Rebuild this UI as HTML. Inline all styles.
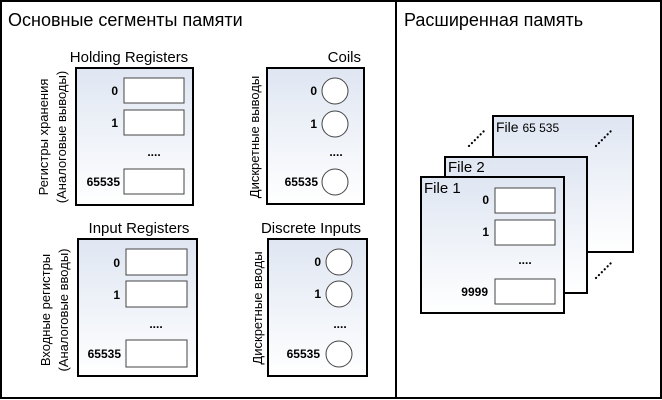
<!DOCTYPE html>
<html><head><meta charset="utf-8"><style>
html,body{margin:0;padding:0;background:#fff}
svg{display:block}
text{font-family:"Liberation Sans","DejaVu Sans",sans-serif;fill:#000}
.b{font-weight:bold;font-size:12px}
.t{font-size:15px}
.r{font-size:13px}
</style></head><body>
<svg width="662" height="400" viewBox="0 0 662 400" xmlns="http://www.w3.org/2000/svg">
<defs>
<linearGradient id="g" x1="0" y1="0" x2="0" y2="1">
<stop offset="0" stop-color="#dfe6f2"/><stop offset="1" stop-color="#ffffff"/>
</linearGradient>
</defs>
<rect x="1" y="1" width="660" height="397" fill="#fff" stroke="#000" stroke-width="2"/>
<line x1="396" y1="1" x2="396" y2="398" stroke="#000" stroke-width="2"/>
<text x="8" y="26" style="font-size:18px">Основные сегменты памяти</text>
<text x="404" y="26" style="font-size:18px">Расширенная память</text>

<!-- Holding -->
<text class="t" x="129" y="62" text-anchor="middle">Holding Registers</text>
<rect x="76" y="68" width="117" height="137" fill="url(#g)" stroke="#000" stroke-width="2"/>
<g fill="#fff" stroke="#444"><rect x="124" y="78" width="60" height="25"/><rect x="124" y="110" width="60" height="25"/><rect x="124" y="169" width="60" height="25"/></g>
<text class="b" x="118" y="95" text-anchor="end">0</text>
<text class="b" x="118" y="127" text-anchor="end">1</text>
<text class="b" x="154" y="156" text-anchor="middle">....</text>
<text class="b" x="120" y="186" text-anchor="end">65535</text>
<text class="r" transform="translate(48,137) rotate(-90)" text-anchor="middle">Регистры хранения</text>
<text class="r" transform="translate(66,137) rotate(-90)" text-anchor="middle">(Аналоговые выводы)</text>

<!-- Coils -->
<text class="t" x="361" y="62" text-anchor="end">Coils</text>
<rect x="267" y="68" width="97" height="136" fill="url(#g)" stroke="#000" stroke-width="2"/>
<g fill="#fff" stroke="#444"><circle cx="335" cy="91" r="13"/><circle cx="335" cy="124" r="13"/><circle cx="335" cy="182" r="13"/></g>
<text class="b" x="317" y="95" text-anchor="end">0</text>
<text class="b" x="317" y="128" text-anchor="end">1</text>
<text class="b" x="336" y="156" text-anchor="middle">....</text>
<text class="b" x="318" y="186" text-anchor="end">65535</text>
<text class="r" transform="translate(259,137) rotate(-90)" text-anchor="middle">Дискретные выводы</text>

<!-- Input -->
<text class="t" x="139" y="233" text-anchor="middle">Input Registers</text>
<rect x="78" y="239" width="119" height="137" fill="url(#g)" stroke="#000" stroke-width="2"/>
<g fill="#fff" stroke="#444"><rect x="126" y="249" width="61" height="26"/><rect x="126" y="281" width="61" height="26"/><rect x="126" y="340" width="61" height="27"/></g>
<text class="b" x="120" y="267" text-anchor="end">0</text>
<text class="b" x="120" y="299" text-anchor="end">1</text>
<text class="b" x="156" y="328" text-anchor="middle">....</text>
<text class="b" x="121" y="358" text-anchor="end">65535</text>
<text class="r" transform="translate(50,310) rotate(-90)" text-anchor="middle">Входные регистры</text>
<text class="r" transform="translate(68,310) rotate(-90)" text-anchor="middle">(Аналоговые вводы)</text>

<!-- Discrete -->
<text class="t" x="311" y="233" text-anchor="middle">Discrete Inputs</text>
<rect x="268" y="239" width="99" height="137" fill="url(#g)" stroke="#000" stroke-width="2"/>
<g fill="#fff" stroke="#444"><circle cx="339" cy="262" r="13"/><circle cx="339" cy="294" r="13"/><circle cx="339" cy="354" r="13"/></g>
<text class="b" x="321" y="266" text-anchor="end">0</text>
<text class="b" x="321" y="298" text-anchor="end">1</text>
<text class="b" x="340" y="328" text-anchor="middle">....</text>
<text class="b" x="320" y="358" text-anchor="end">65535</text>
<text class="r" transform="translate(262,308) rotate(-90)" text-anchor="middle">Дискретные вводы</text>

<!-- Files -->
<rect x="493" y="116" width="140" height="136" fill="url(#g)" stroke="#000" stroke-width="2"/>
<text x="496" y="132" style="font-size:14px">File <tspan style="font-size:12px">65 535</tspan></text>
<g stroke="#000" stroke-width="2.2" stroke-dasharray="0.1 4" stroke-linecap="round">
<line x1="469" y1="146" x2="486" y2="129"/>
<line x1="596" y1="146" x2="613" y2="129"/>
<line x1="596" y1="278" x2="613" y2="261"/>
</g>
<rect x="445" y="157" width="142" height="136" fill="url(#g)" stroke="#000" stroke-width="2"/>
<text x="448" y="172" style="font-size:15px">File 2</text>
<rect x="421" y="177" width="143" height="136" fill="url(#g)" stroke="#000" stroke-width="2"/>
<text x="424" y="193" style="font-size:15px">File 1</text>
<g fill="#fff" stroke="#444"><rect x="495" y="188" width="60" height="25"/><rect x="495" y="220" width="60" height="25"/><rect x="495" y="279" width="60" height="25"/></g>
<text class="b" x="489" y="204" text-anchor="end">0</text>
<text class="b" x="489" y="236" text-anchor="end">1</text>
<text class="b" x="525" y="264" text-anchor="middle">....</text>
<text class="b" x="488" y="296" text-anchor="end">9999</text>
</svg>
</body></html>
